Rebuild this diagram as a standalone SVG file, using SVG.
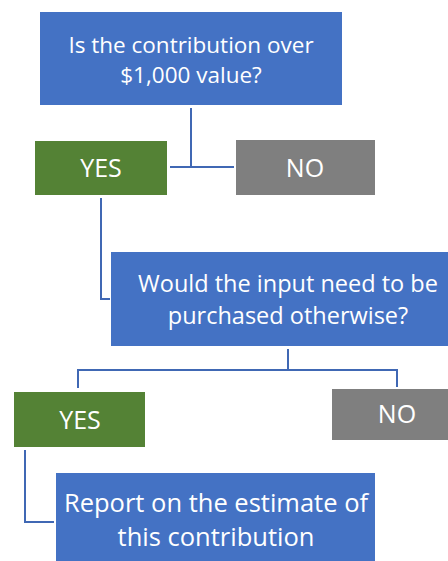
<svg xmlns="http://www.w3.org/2000/svg" width="448" height="561" viewBox="0 0 448 561">
<style>
.q{fill:#4472C4}
.y{fill:#548235}
.n{fill:#7F7F7F}
.t{font-family:"Open Sans","Liberation Sans",sans-serif;fill:#fff;text-anchor:middle;dominant-baseline:central}
.c{fill:none;stroke:#4068B4;stroke-width:2}
</style>
<rect width="448" height="561" fill="#fff"/>
<g id="connectors">
<path class="c" d="M191 108V167M170 167H234"/>
<path class="c" d="M101 198V299H110"/>
<path class="c" d="M288 349V370M78 388V370H397V387"/>
<path class="c" d="M25 450V522H54"/>
</g>
<g id="q1"><rect class="q" x="40" y="12" width="302" height="93"/>
<text class="t" x="191" y="44" font-size="22.5">Is the contribution over</text>
<text class="t" x="191" y="74" font-size="22.5">$1,000 value?</text></g>
<g id="yes1"><rect class="y" x="35" y="141" width="132" height="54"/>
<text class="t" x="101" y="167" font-size="25">YES</text></g>
<g id="no1"><rect class="n" x="236" y="140" width="139" height="55"/>
<text class="t" x="305" y="167" font-size="25">NO</text></g>
<g id="q2"><rect class="q" x="111" y="252" width="354" height="94"/>
<text class="t" x="288" y="283" font-size="23.5">Would the input need to be</text>
<text class="t" x="288" y="315" font-size="23.5">purchased otherwise?</text></g>
<g id="yes2"><rect class="y" x="14" y="392" width="131" height="55"/>
<text class="t" x="80" y="419" font-size="25">YES</text></g>
<g id="no2"><rect class="n" x="332" y="389" width="130" height="51"/>
<text class="t" x="397" y="413" font-size="25">NO</text></g>
<g id="report"><rect class="q" x="56" y="473" width="319" height="100"/>
<text class="t" x="216" y="502" font-size="25.5">Report on the estimate of</text>
<text class="t" x="216" y="536" font-size="25.5">this contribution</text></g>
</svg>
